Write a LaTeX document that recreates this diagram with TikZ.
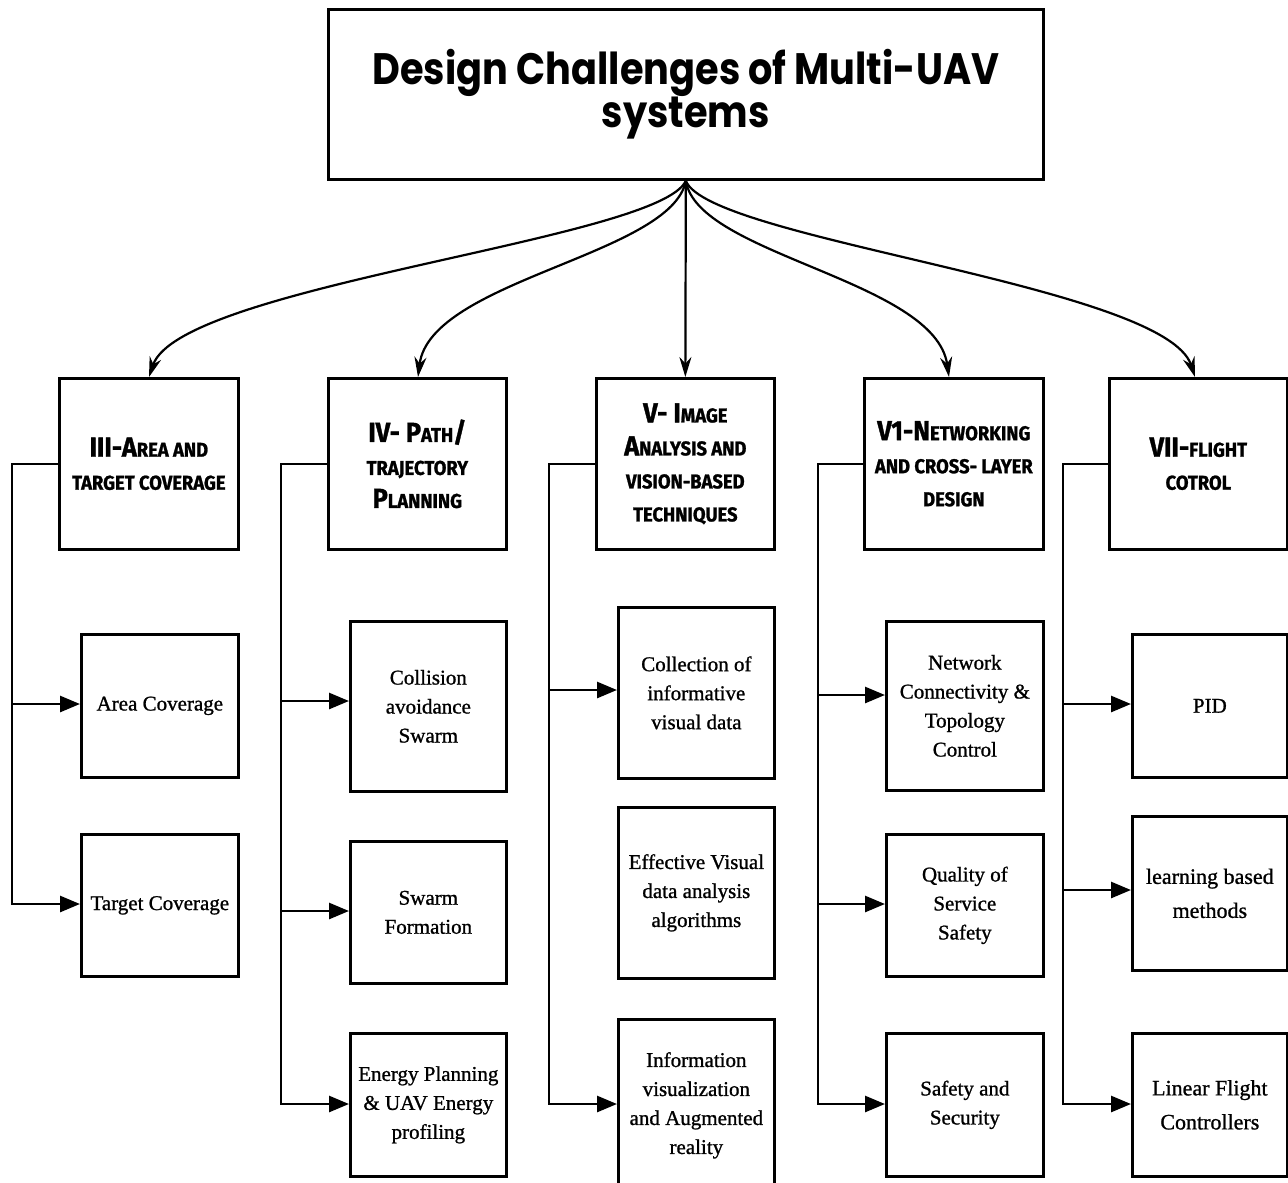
\documentclass[tikz,border=0pt]{standalone}
\usepackage{fontspec}
\usetikzlibrary{arrows.meta}
\setmainfont{Liberation Serif}
\newfontfamily\bodyfont{Liberation Serif}[FakeBold=1.0]
\newfontfamily\headfont{Fira Sans}[FakeStretch=0.92, FakeBold=1.2]
\newfontfamily\titlefont{Poppins}[FakeStretch=0.87]
\newcommand\hsc[1]{{\fontsize{20}{33}\selectfont #1}}
\begin{document}
\begin{tikzpicture}[x=1pt,y=-1pt,
  box/.style={draw, line width=2.7pt, inner sep=2pt, anchor=north west, align=center},
  child/.style={box, font=\bodyfont\fontsize{21}{29}\selectfont},
  childb/.style={box, font=\bodyfont\fontsize{22}{34}\selectfont},
  head/.style={box, font=\headfont\bfseries\fontsize{27.5}{33}\selectfont},
  con/.style={line width=2.7pt, line cap=rect},
  harr/.style={line width=2.7pt, -{Triangle[length=20pt,width=16pt]}},
  farr/.style={line width=2.2pt, -{Stealth[length=20pt,width=12pt]}}]
\useasboundingbox (0,0) rectangle (1288,1183);
\fill[white] (0,0) rectangle (1288,1183);

% title
\node[box, minimum width=715pt, minimum height=170pt,
  font=\titlefont\bfseries\fontsize{44}{40}\selectfont] (top) at (327,8)
  {Design Challenges of Multi-UAV\\systems};

% headers
\node[head, minimum width=179pt, minimum height=171pt] (h3) at (58,377)
  {III-A\hsc{REA AND}\\\hsc{TARGET COVERAGE}};
\node[head, minimum width=178pt, minimum height=171pt] (h4) at (327,377)
  {IV- P\hsc{ATH}/\\\hsc{TRAJECTORY}\\P\hsc{LANNING}};
\node[head, minimum width=178pt, minimum height=171pt] (h5) at (595,377)
  {V- I\hsc{MAGE}\\A\hsc{NALYSIS AND}\\\hsc{VISION-BASED}\\\hsc{TECHNIQUES}};
\node[head, minimum width=179pt, minimum height=171pt] (h6) at (863,377)
  {V1-N\hsc{ETWORKING}\\\hsc{AND CROSS- LAYER}\\\hsc{DESIGN}};
\node[head, minimum width=178pt, minimum height=171pt] (h7) at (1108,377)
  {VII-\hsc{FLIGHT}\\\hsc{COTROL}};

% fan arrow end points
\coordinate (t3) at (149,377);
\coordinate (t4) at (418,377);
\coordinate (t6) at (949,377);
\coordinate (t7) at (1195,377);
\draw[farr] (top.south) .. controls (660,240) and (180,285) .. (t3);
\draw[farr] (top.south) .. controls (672,255) and (430,280) .. (t4);
\draw[farr] (top.south) -- (h5.north);
\draw[farr] (top.south) .. controls (697,255) and (935,280) .. (t6);
\draw[farr] (top.south) .. controls (708,240) and (1165,285) .. (t7);

% column III
\node[child, minimum width=157pt, minimum height=143pt] (a31) at (80,633) {Area Coverage};
\node[child, minimum width=157pt, minimum height=142pt] (a32) at (80,833) {Target Coverage};
% column IV
\node[child, minimum width=156pt, minimum height=170pt] (a41) at (349,620) {Collision\\avoidance\\Swarm};
\node[child, minimum width=156pt, minimum height=142pt] (a42) at (349,840) {Swarm\\Formation};
\node[child, minimum width=156pt, minimum height=143pt] (a43) at (349,1032) {Energy Planning\\\& UAV Energy\\profiling};
% column V
\node[child, minimum width=156pt, minimum height=171pt] (a51) at (617,606) {Collection of\\informative\\visual data};
\node[child, minimum width=156pt, minimum height=171pt] (a52) at (617,806) {Effective Visual\\data analysis\\algorithms};
\node[child, minimum width=156pt, minimum height=172pt] (a53) at (617,1018) {Information\\visualization\\and Augmented\\reality};
% column VI
\node[child, minimum width=157pt, minimum height=169pt] (a61) at (885,620) {Network\\Connectivity \&\\Topology\\Control};
\node[child, minimum width=157pt, minimum height=142pt] (a62) at (885,833) {Quality of\\Service\\Safety};
\node[child, minimum width=157pt, minimum height=143pt] (a63) at (885,1032) {Safety and\\Security};
% column VII
\node[child, minimum width=155pt, minimum height=143pt] (a71) at (1131,633) {PID};
\node[childb, minimum width=155pt, minimum height=154pt] (a72) at (1131,815) {learning based\\methods};
\node[childb, minimum width=155pt, minimum height=143pt] (a73) at (1131,1032) {Linear Flight\\Controllers};

% branch coordinates
\coordinate (c31) at (12,704);   \coordinate (c32) at (12,904);
\coordinate (c41) at (281,701);  \coordinate (c42) at (281,911);  \coordinate (c43) at (281,1104);
\coordinate (c51) at (549,690);  \coordinate (c53) at (549,1104);
\coordinate (c61) at (818,695);  \coordinate (c62) at (818,904);  \coordinate (c63) at (818,1104);
\coordinate (c71) at (1063,704); \coordinate (c72) at (1063,890); \coordinate (c73) at (1063,1104);

% trunks
\draw[con] (h3.west) -| (c32);
\draw[con] (h4.west) -| (c43);
\draw[con] (h5.west) -| (c53);
\draw[con] (h6.west) -| (c63);
\draw[con] (h7.west) -| (c73);

% branch arrows
\draw[harr] (c31) -- (c31 -| a31.west);
\draw[harr] (c32) -- (c32 -| a32.west);
\draw[harr] (c41) -- (c41 -| a41.west);
\draw[harr] (c42) -- (c42 -| a42.west);
\draw[harr] (c43) -- (c43 -| a43.west);
\draw[harr] (c51) -- (c51 -| a51.west);
\draw[harr] (c53) -- (c53 -| a53.west);
\draw[harr] (c61) -- (c61 -| a61.west);
\draw[harr] (c62) -- (c62 -| a62.west);
\draw[harr] (c63) -- (c63 -| a63.west);
\draw[harr] (c71) -- (c71 -| a71.west);
\draw[harr] (c72) -- (c72 -| a72.west);
\draw[harr] (c73) -- (c73 -| a73.west);
\end{tikzpicture}
\end{document}
